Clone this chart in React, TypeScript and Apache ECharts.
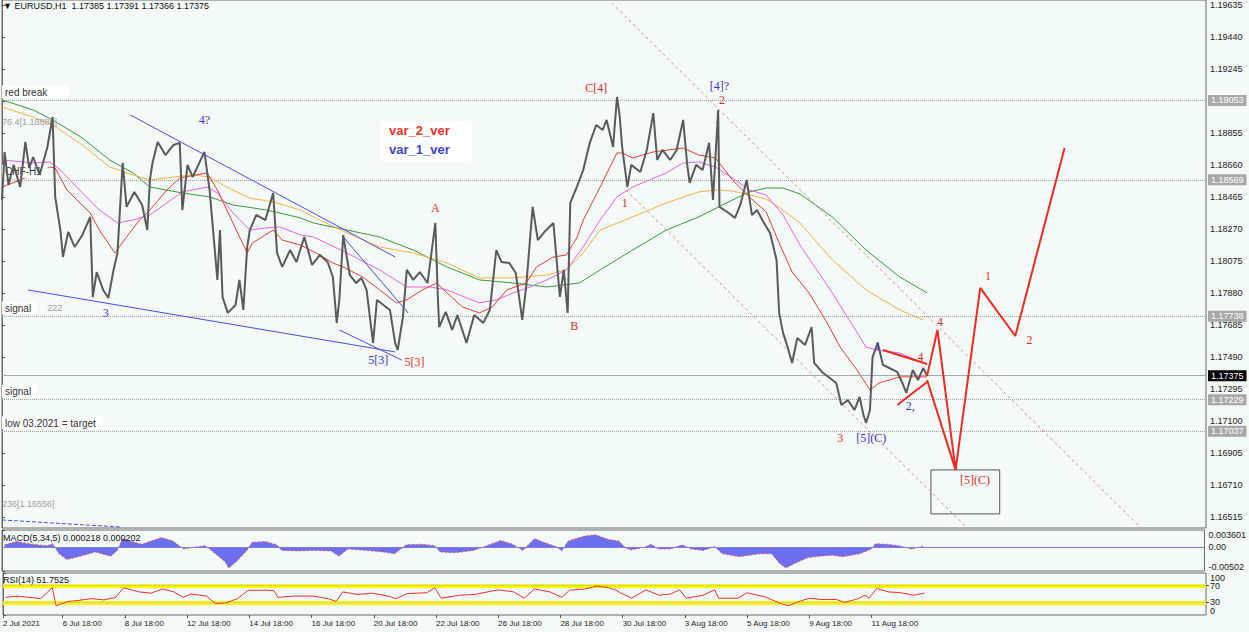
import React, { useEffect, useRef } from 'react';
import * as echarts from 'echarts';

const X_MAX = 928;
const xTickIdx = [0, 46, 94, 142, 190, 238, 286, 334, 382, 430, 478, 526, 574, 622, 670];
const xTickLabels = ['2 Jul 2021', '6 Jul 18:00', '8 Jul 18:00', '12 Jul 18:00', '14 Jul 18:00', '16 Jul 18:00', '20 Jul 18:00', '22 Jul 18:00', '26 Jul 18:00', '28 Jul 18:00', '30 Jul 18:00', '3 Aug 18:00', '5 Aug 18:00', '9 Aug 18:00', '11 Aug 18:00'];

const priceMin = 1.16447;
const priceMax = 1.19665;
const priceTicks = [1.19635, 1.1944, 1.19245, 1.1905, 1.18855, 1.1866, 1.18465, 1.1827, 1.18075, 1.1788, 1.17685, 1.1749, 1.17295, 1.171, 1.16905, 1.1671, 1.16515];

const macdTicks = [0.003601, 0, -0.00502];
const macdTickLabels = ['0.003601', '0.00', '-0.00502'];
const rsiEdgeTicks = [100, 0];
const rsiLevelTicks = [70, 30];

const price: [number, number][] = [[0,1.18446],[2,1.18739],[5,1.18538],[9,1.18660],[14,1.18525],[18,1.18800],[21,1.18641],[24,1.18708],[29,1.18599],[35,1.18769],[39,1.18952],[41,1.18465],[45,1.18263],[47,1.18099],[51,1.18251],[56,1.18160],[62,1.18233],[68,1.18343],[70,1.17855],[73,1.18007],[78,1.17898],[82,1.17849],[86,1.18020],[89,1.18123],[93,1.18672],[96,1.18404],[102,1.18495],[108,1.18416],[112,1.18263],[114,1.18568],[116,1.18672],[120,1.18800],[126,1.18720],[132,1.18781],[137,1.18794],[139,1.18385],[143,1.18660],[147,1.18586],[156,1.18739],[160,1.18507],[166,1.17959],[168,1.18263],[170,1.17855],[174,1.17758],[180,1.17806],[183,1.17959],[186,1.17776],[189,1.18160],[191,1.18263],[196,1.18355],[203,1.18324],[209,1.18489],[212,1.18123],[216,1.18038],[222,1.18141],[227,1.18068],[233,1.18221],[239,1.18050],[245,1.18111],[251,1.18068],[255,1.17977],[258,1.17697],[260,1.17837],[263,1.18233],[268,1.17989],[273,1.17940],[277,1.17971],[281,1.17898],[286,1.17575],[289,1.17837],[294,1.17806],[299,1.17776],[303,1.17575],[305,1.17532],[309,1.17733],[312,1.18020],[317,1.17959],[322,1.18007],[328,1.17940],[334,1.18306],[336,1.17837],[337,1.17672],[342,1.17764],[347,1.17654],[351,1.17745],[358,1.17575],[364,1.17745],[371,1.17697],[376,1.17776],[381,1.18141],[385,1.18068],[391,1.18062],[396,1.18001],[401,1.17715],[404,1.17916],[409,1.18404],[413,1.18202],[418,1.18251],[425,1.18306],[430,1.17855],[433,1.18020],[436,1.17758],[438,1.18428],[443,1.18525],[448,1.18629],[453,1.18794],[458,1.18903],[463,1.18873],[466,1.18934],[471,1.18769],[474,1.19074],[476,1.18964],[478,1.18769],[482,1.18525],[485,1.18660],[492,1.18617],[497,1.18751],[502,1.18976],[505,1.18690],[509,1.18751],[515,1.18690],[520,1.18751],[525,1.18934],[528,1.18672],[530,1.18550],[535,1.18660],[540,1.18629],[545,1.18794],[548,1.18446],[552,1.18995],[553,1.18404],[559,1.18373],[565,1.18337],[569,1.18416],[574,1.18568],[578,1.18355],[582,1.18385],[586,1.18324],[592,1.18245],[597,1.18081],[599,1.17758],[602,1.17636],[605,1.17563],[609,1.17453],[613,1.17605],[619,1.17563],[624,1.17672],[626,1.17453],[632,1.17398],[638,1.17361],[643,1.17331],[647,1.17197],[652,1.17227],[657,1.17166],[661,1.17246],[664,1.17136],[666,1.17087],[669,1.17166],[671,1.17489],[675,1.17575],[679,1.17441],[684,1.17422],[690,1.17398],[694,1.17331],[697,1.17270],[702,1.17410],[706,1.17349],[710,1.17422],[713,1.17375]];

const maRed: [number, number][] = [[0,1.18525],[14,1.18568],[37,1.18647],[41,1.18641],[50,1.18507],[68,1.18367],[75,1.18263],[87,1.18123],[96,1.18221],[106,1.18324],[114,1.18385],[127,1.18507],[137,1.18580],[158,1.18611],[166,1.18507],[178,1.18306],[189,1.18123],[193,1.18184],[209,1.18263],[216,1.18202],[230,1.18172],[245,1.18111],[255,1.18062],[263,1.18038],[278,1.17977],[291,1.17898],[304,1.17819],[312,1.17837],[324,1.17898],[335,1.17940],[343,1.17880],[355,1.17794],[368,1.17758],[378,1.17794],[389,1.17898],[404,1.17940],[412,1.18038],[425,1.18099],[435,1.18111],[443,1.18215],[448,1.18324],[461,1.18525],[474,1.18733],[478,1.18733],[486,1.18702],[502,1.18739],[525,1.18763],[537,1.18720],[550,1.18702],[563,1.18568],[576,1.18465],[589,1.18373],[599,1.18184],[609,1.18007],[622,1.17880],[636,1.17697],[646,1.17550],[659,1.17410],[669,1.17288],[676,1.17331],[692,1.17368],[713,1.17368]];

const maMagenta: [number, number][] = [[0,1.18690],[24,1.18672],[37,1.18678],[45,1.18629],[62,1.18489],[75,1.18385],[89,1.18306],[101,1.18324],[114,1.18355],[127,1.18428],[139,1.18495],[158,1.18525],[166,1.18489],[178,1.18367],[191,1.18263],[204,1.18276],[214,1.18282],[230,1.18233],[240,1.18221],[266,1.18123],[291,1.18020],[312,1.17916],[330,1.17916],[343,1.17898],[368,1.17819],[381,1.17837],[394,1.17880],[407,1.17916],[420,1.17959],[435,1.18020],[448,1.18160],[461,1.18324],[474,1.18465],[486,1.18525],[499,1.18568],[512,1.18611],[525,1.18672],[537,1.18678],[550,1.18647],[563,1.18580],[576,1.18507],[589,1.18477],[602,1.18355],[615,1.18172],[628,1.18020],[640,1.17880],[653,1.17715],[666,1.17550],[674,1.17532],[692,1.17514],[710,1.17453]];

const maOrange: [number, number][] = [[0,1.19013],[24,1.18952],[39,1.18903],[62,1.18781],[83,1.18647],[101,1.18599],[114,1.18568],[132,1.18586],[147,1.18599],[160,1.18586],[173,1.18525],[191,1.18458],[209,1.18434],[230,1.18385],[240,1.18343],[266,1.18245],[291,1.18160],[317,1.18123],[343,1.18062],[368,1.17971],[394,1.17971],[420,1.17989],[435,1.18020],[448,1.18123],[461,1.18263],[486,1.18343],[512,1.18428],[537,1.18495],[550,1.18507],[563,1.18501],[576,1.18477],[589,1.18452],[602,1.18385],[615,1.18306],[640,1.18081],[666,1.17898],[692,1.17776],[710,1.17715]];

const maGreen: [number, number][] = [[0,1.19056],[24,1.18995],[39,1.18934],[62,1.18824],[83,1.18690],[101,1.18611],[114,1.18525],[139,1.18489],[160,1.18465],[178,1.18416],[204,1.18385],[230,1.18337],[240,1.18306],[266,1.18263],[291,1.18221],[317,1.18141],[343,1.18038],[368,1.17959],[394,1.17940],[420,1.17916],[445,1.17940],[461,1.18020],[486,1.18141],[512,1.18263],[537,1.18343],[563,1.18446],[576,1.18495],[589,1.18519],[602,1.18519],[615,1.18483],[640,1.18343],[666,1.18141],[692,1.17977],[713,1.17880]];

const blueTrendLines: [number, number][][] = [
  [[99, 1.18964], [303, 1.18099]],
  [[20, 1.17898], [303, 1.1752]],
  [[263, 1.18221], [313, 1.17758]],
  [[260, 1.17654], [308, 1.17471]],
];
const blueDashedLine: [number, number][] = [[0, 1.16496], [91, 1.16453]];
const redChannelLines: [number, number][][] = [
  [[470, 1.19647], [877, 1.16454]],
  [[481, 1.18507], [743, 1.16454]],
];
const redForecastMain: [number, number][] = [[713, 1.17374], [721, 1.17654], [735, 1.16801], [754, 1.1791], [781, 1.17617], [819, 1.18763]];
const redForecastAlt: [number, number][] = [[713, 1.17349], [735, 1.16801]];
const redTriangle: [number, number][][] = [
  [[679, 1.17532], [713, 1.17447]],
  [[690, 1.17197], [713, 1.17337]],
];
const targetBox = { x1: 716, x2: 769, y1: 1.16801, y2: 1.16533 };

const redLabels: [string, number, number][] = [
  ['A', 334, 1.18397], ['B', 441, 1.17678], ['C[4]', 458, 1.19129], ['2', 555, 1.19056], ['1', 480, 1.18428],
  ['3', 646, 1.16996], ['5[3]', 318, 1.17459], ['4', 708, 1.17489], ['4', 723, 1.17703], ['1', 760, 1.17983],
  ['2', 792, 1.17593], ['[5](C)', 750, 1.1674],
];
const blueLabels: [string, number, number][] = [
  ['4?', 156, 1.18934], ['3', 80, 1.17758], ['5[3]', 290, 1.17471], ['[4]?', 553, 1.19141],
  ['1', 675, 1.17557], ['2,', 700, 1.17191], ['[5](C)', 670, 1.16996],
];

// horizontal levels: value, left text, right box text
const levelValues = [1.19053, 1.1888, 1.18569, 1.17738, 1.17375, 1.17229, 1.17037, 1.16556];
const levelLeftTexts = ['red break', '76.4[1.18880]', 'CHF-H1', 'signal', '', 'signal', 'low 03.2021 = target', '236[1.16556]'];
const levelBoxTexts = ['1.19053', '', '1.18569', '1.17738', '1.17375', '1.17229', '1.17037', ''];

const macd: [number, number][] = [[2,0.0005],[11,0.0012],[23,0.0006],[35,0.0003],[39,0.0007],[44,-0.0014],[50,-0.0026],[59,-0.002],[72,-0.001],[84,-0.0019],[89,-0.0007],[93,0.0018],[99,0.0013],[108,0.0006],[114,0.0012],[123,0.002],[132,0.0013],[140,-0.0004],[151,0.0001],[157,0.0003],[163,-0.001],[172,-0.003],[175,-0.0044],[181,-0.003],[189,-0.0007],[193,0.001],[203,0.0012],[212,0.0005],[216,-0.0007],[227,-0.0008],[242,-0.0007],[254,-0.0008],[260,-0.0019],[267,-0.0004],[282,-0.0007],[294,-0.001],[303,-0.0014],[312,0.0005],[324,0.0006],[334,0.0003],[338,-0.001],[349,-0.0012],[364,-0.0007],[376,0.0005],[385,0.0014],[394,0.0006],[402,-0.0007],[411,0.0018],[418,0.001],[428,0.0001],[432,-0.0008],[437,0.0013],[449,0.0023],[458,0.0026],[468,0.0016],[476,0.0013],[481,-0.0001],[485,-0.0006],[495,-0.0001],[501,0.0006],[507,-0.0004],[516,-0.0004],[525,0.0005],[532,-0.0004],[541,-0.0007],[550,0.0001],[556,-0.0014],[569,-0.002],[585,-0.0014],[594,-0.0014],[600,-0.0034],[605,-0.0044],[612,-0.0034],[622,-0.0022],[631,-0.0019],[640,-0.0017],[649,-0.002],[662,-0.0014],[671,-0.0004],[674,0.0007],[683,0.0006],[692,0.0003],[702,-0.0004],[711,0.0002]];

const rsi: [number, number][] = [[2,42],[11,45],[20,42],[29,39],[38,65],[41,22],[50,32],[59,35],[68,39],[78,36],[87,42],[93,65],[105,55],[114,52],[123,62],[132,55],[139,42],[145,50],[157,45],[164,27],[172,29],[181,39],[189,59],[202,59],[209,58],[212,42],[224,45],[239,45],[251,39],[257,32],[262,55],[273,49],[285,52],[297,45],[303,39],[312,51],[327,53],[333,65],[338,40],[352,47],[364,49],[382,60],[394,55],[402,40],[410,62],[422,55],[431,42],[437,59],[449,62],[458,69],[467,65],[473,59],[476,53],[485,40],[496,60],[506,47],[515,50],[522,60],[527,40],[540,47],[549,60],[552,40],[567,40],[574,53],[588,43],[600,27],[606,22],[612,30],[622,40],[631,37],[643,37],[649,30],[659,38],[665,47],[668,40],[674,63],[683,55],[693,53],[702,47],[711,52]];

const FONT = 'Liberation Sans';
const SERIF = 'Liberation Serif';
const CLEAR = 'rgba(0,0,0,0)';

function buildOption() {
  const lineBase = { type: 'line', symbol: 'none', silent: true, xAxisIndex: 0, yAxisIndex: 0 };

  const levelMarks: any[] = [];
  levelValues.forEach((v, k) => {
    const left = levelLeftTexts[k];
    const box = levelBoxTexts[k];
    const isCurrent = box === '1.17375';
    const grey = left.indexOf('[') >= 0;
    levelMarks.push({
      yAxis: v,
      lineStyle: grey
        ? { color: CLEAR, width: 0 }
        : isCurrent
        ? { color: '#a8a8a8', type: 'solid', width: 1 }
        : { color: '#a0a0a0', type: 'dotted', width: 1 },
      label: left
        ? {
            show: true,
            position: 'insideStartTop',
            distance: [0, 2],
            formatter: left === 'signal' && k === 3 ? '{w|signal}   {g|222}' : grey ? '{g|' + left + '}' : '{w|' + left + '}',
            rich: {
              w: { backgroundColor: '#ffffff', color: '#333', fontSize: 10, fontFamily: FONT, padding: left === 'red break' ? [2, 22, 1, 3] : [2, 6, 1, 3] },
              g: { color: '#a0a0a0', fontSize: 9, fontFamily: FONT },
            },
          }
        : { show: false },
    });
    if (box) {
      levelMarks.push({
        yAxis: v,
        lineStyle: { color: CLEAR, width: 0 },
        label: {
          show: true,
          position: 'end',
          distance: 2,
          formatter: box,
          backgroundColor: isCurrent ? '#000000' : '#a9a9a9',
          color: '#ffffff',
          fontSize: 9,
          fontFamily: FONT,
          padding: [1, 3, 1, 3],
        },
      });
    }
  });

  const series: any[] = [
    {
      ...lineBase,
      name: 'price',
      data: price,
      lineStyle: { color: '#5a5a5a', width: 2 },
      z: 5,
      markLine: { silent: true, precision: 5, symbol: ['none', 'none'], animation: false, data: levelMarks },
    },
    { ...lineBase, data: maGreen, lineStyle: { color: '#3c9a3c', width: 1 }, z: 4 },
    { ...lineBase, data: maOrange, lineStyle: { color: '#f2b247', width: 1 }, z: 4 },
    { ...lineBase, data: maMagenta, lineStyle: { color: '#ec5fec', width: 1 }, z: 4 },
    { ...lineBase, data: maRed, lineStyle: { color: '#ee3a32', width: 1 }, z: 4 },
  ];
  blueTrendLines.forEach((seg) => series.push({ ...lineBase, data: seg, lineStyle: { color: '#4b4be6', width: 1 }, z: 6 }));
  series.push({ ...lineBase, data: blueDashedLine, lineStyle: { color: '#4b4be6', width: 1, type: 'dashed' }, z: 6 });
  redChannelLines.forEach((seg) => series.push({ ...lineBase, data: seg, lineStyle: { color: '#ec8a84', width: 1, type: [3, 3] }, z: 3 }));
  redTriangle.forEach((seg) => series.push({ ...lineBase, data: seg, lineStyle: { color: '#ee2a22', width: 2 }, z: 7 }));
  series.push({ ...lineBase, data: redForecastAlt, lineStyle: { color: '#ee2a22', width: 2 }, z: 7 });
  series.push({
    ...lineBase,
    data: redForecastMain,
    lineStyle: { color: '#ee2a22', width: 2 },
    z: 7,
    markArea: {
      silent: true,
      precision: 5,
      itemStyle: { color: CLEAR, borderColor: '#555', borderWidth: 1 },
      data: [[{ xAxis: targetBox.x1, yAxis: targetBox.y1 }, { xAxis: targetBox.x2, yAxis: targetBox.y2 }]],
    },
  });
  const labelSeries = (items: [string, number, number][], color: string) => ({
    type: 'scatter',
    silent: true,
    xAxisIndex: 0,
    yAxisIndex: 0,
    symbolSize: 1,
    itemStyle: { color: CLEAR, opacity: 1 },
    z: 8,
    label: { show: true, position: 'inside', formatter: '{b}', color, opacity: 1, fontSize: 12, fontFamily: SERIF, textBorderWidth: 0 },
    data: items.map(([n, i, p]) => ({ name: n, value: [i, p] })),
  });
  series.push(labelSeries(redLabels, '#e62b22'));
  series.push(labelSeries(blueLabels, '#3535d8'));

  series.push({
    type: 'line',
    symbol: 'none',
    silent: true,
    xAxisIndex: 1,
    yAxisIndex: 1,
    data: macd,
    lineStyle: { color: '#e06060', width: 1, type: [2, 2] },
    areaStyle: { color: '#5f5fee', opacity: 0.9, origin: 0 },
    markLine: {
      silent: true,
      precision: 6,
      symbol: ['none', 'none'],
      label: { show: false },
      lineStyle: { color: '#7d7de8', width: 1, type: 'solid' },
      data: [{ yAxis: 0 }],
    },
  });
  series.push({
    type: 'line',
    symbol: 'none',
    silent: true,
    xAxisIndex: 2,
    yAxisIndex: 2,
    data: rsi,
    lineStyle: { color: '#ee3030', width: 1 },
    z: 5,
    markLine: {
      silent: true,
      symbol: ['none', 'none'],
      label: { show: false },
      data: [
        { yAxis: 70, lineStyle: { color: '#ffff00', width: 4, type: 'solid' } },
        { yAxis: 30, lineStyle: { color: '#ffff00', width: 4, type: 'solid' } },
        { yAxis: 70, lineStyle: { color: '#b0b0b0', width: 1, type: 'dotted' } },
        { yAxis: 30, lineStyle: { color: '#b0b0b0', width: 1, type: 'dotted' } },
      ],
    },
  });

  const gridBase = { left: 2, right: 43, show: true, borderColor: '#6a6a6a', borderWidth: 1, containLabel: false };
  const xBase = {
    type: 'value',
    min: 0,
    max: X_MAX,
    splitLine: { show: false },
    axisLine: { show: false },
    axisTick: { show: false },
    axisLabel: { show: false },
  };
  const yBase = {
    type: 'value',
    position: 'right',
    splitLine: { show: false },
    axisLine: { show: true, lineStyle: { color: '#6a6a6a' } },
    axisTick: { show: true, length: 3, lineStyle: { color: '#555' } },
  };
  const axisText = { fontSize: 9, color: '#222', fontFamily: FONT };

  return {
    animation: false,
    backgroundColor: '#f3faf7',
    title: [
      { text: '\u25BC EURUSD,H1  1.17385 1.17391 1.17366 1.17375', left: 3, top: 1, padding: 0, textStyle: { fontSize: 9, color: '#111', fontFamily: FONT, fontWeight: 'normal' } },
      {
        text: '{r|var_2_ver}\n{b|var_1_ver}',
        left: 380,
        top: 118,
        padding: [3, 22, 5, 9],
        backgroundColor: '#ffffff',
        textStyle: {
          rich: {
            r: { color: '#e8332b', fontSize: 13, fontFamily: FONT, lineHeight: 19 },
            b: { color: '#3f3fd8', fontSize: 13, fontFamily: FONT, lineHeight: 19 },
          },
        },
      },
      { text: 'MACD(5,34,5) 0.000218 0.000202', left: 3, top: 533, padding: 0, textStyle: { fontSize: 9, color: '#111', fontFamily: FONT, fontWeight: 'normal' } },
      { text: 'RSI(14) 51.7525', left: 3, top: 575, padding: 0, textStyle: { fontSize: 9, color: '#111', fontFamily: FONT, fontWeight: 'normal' } },
    ],
    grid: [
      { ...gridBase, top: 0, height: 528 },
      { ...gridBase, top: 530, height: 41 },
      { ...gridBase, top: 573, height: 42 },
    ],
    xAxis: [
      { ...xBase, gridIndex: 0 },
      { ...xBase, gridIndex: 1 },
      {
        ...xBase,
        gridIndex: 2,
        axisTick: { show: true, customValues: xTickIdx, length: 3, lineStyle: { color: '#555' } },
        axisLabel: {
          show: true,
          customValues: xTickIdx,
          align: 'left',
          margin: 4,
          ...axisText,
          fontSize: 8,
          formatter: (v: number) => xTickLabels[xTickIdx.indexOf(v)] ?? '',
        },
      },
    ],
    yAxis: [
      {
        ...yBase,
        gridIndex: 0,
        min: priceMin,
        max: priceMax,
        axisTick: { ...yBase.axisTick, customValues: priceTicks },
        axisLabel: { ...axisText, margin: 4, customValues: priceTicks, formatter: (v: number) => v.toFixed(5) },
      },
      {
        ...yBase,
        gridIndex: 1,
        min: -0.00502,
        max: 0.003601,
        axisTick: { ...yBase.axisTick, customValues: macdTicks },
        axisLabel: {
          ...axisText,
          margin: 4,
          customValues: macdTicks,
          showMinLabel: true,
          showMaxLabel: true,
          verticalAlignMaxLabel: 'bottom',
          verticalAlignMinLabel: 'top',
          formatter: (v: number) => {
            let best = 0;
            macdTicks.forEach((t, k) => { if (Math.abs(t - v) < Math.abs(macdTicks[best] - v)) best = k; });
            return macdTickLabels[best];
          },
        },
      },
      {
        ...yBase,
        gridIndex: 2,
        min: 0,
        max: 100,
        axisTick: { ...yBase.axisTick, customValues: rsiEdgeTicks },
        axisLabel: {
          ...axisText,
          margin: 4,
          customValues: rsiEdgeTicks,
          showMinLabel: true,
          showMaxLabel: true,
          verticalAlignMaxLabel: 'bottom',
          verticalAlignMinLabel: 'top',
          formatter: (v: number) => String(Math.round(v)),
        },
      },
      {
        ...yBase,
        gridIndex: 2,
        min: 0,
        max: 100,
        offset: 0,
        axisLine: { show: false },
        axisTick: { ...yBase.axisTick, customValues: rsiLevelTicks },
        axisLabel: {
          ...axisText,
          margin: 4,
          customValues: rsiLevelTicks,
          showMinLabel: true,
          showMaxLabel: true,
          formatter: (v: number) => String(Math.round(v)),
        },
      },
    ],
    series,
  };
}

export default function App() {
  const ref = useRef<HTMLDivElement>(null);
  useEffect(() => {
    document.body.style.margin = '0';
    const chart = echarts.init(ref.current!, undefined, { renderer: 'svg' });
    chart.setOption(buildOption() as any);
    return () => chart.dispose();
  }, []);
  return <div ref={ref} style={{ width: 1249, height: 632 }} />;
}
